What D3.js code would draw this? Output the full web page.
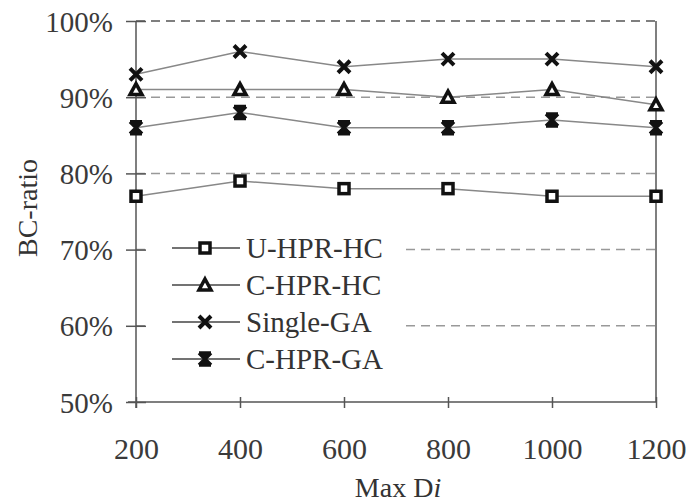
<!DOCTYPE html>
<html>
<head>
<meta charset="utf-8">
<script src="https://cdn.jsdelivr.net/npm/d3@7"></script>
<style>
  body { margin: 0; background: #fff; }
  text { font-family: "Liberation Serif", "Times New Roman", serif; fill: #333; }
</style>
</head>
<body>
<script>
// data
var categories = ["200", "400", "600", "800", "1000", "1200"];
var seriesNames = ["U-HPR-HC", "C-HPR-HC", "Single-GA", "C-HPR-GA"];
var uHprHc   = [0.77, 0.79, 0.78, 0.78, 0.77, 0.77];
var cHprHc   = [0.91, 0.91, 0.91, 0.90, 0.91, 0.89];
var singleGa = [0.93, 0.96, 0.94, 0.95, 0.95, 0.94];
var cHprGa   = [0.86, 0.88, 0.86, 0.86, 0.87, 0.86];
var yTicks   = [0.5, 0.6, 0.7, 0.8, 0.9, 1.0];

var W = 689, H = 503;
var plotLeft = 136, plotRight = 656, plotTop = 21, plotBottom = 402;

var svg = d3.select("body").append("svg")
    .attr("width", W)
    .attr("height", H);

var x = d3.scalePoint().domain(categories).range([plotLeft, plotRight]);
var y = d3.scaleLinear().domain([0.5, 1.0]).range([plotBottom, plotTop]);

// gridlines (dashed)
svg.append("g")
    .selectAll("line")
    .data(yTicks.filter(function(d) { return d > 0.5; }))
    .enter().append("line")
        .attr("x1", plotLeft)
        .attr("x2", plotRight)
        .attr("y1", function(d) { return y(d); })
        .attr("y2", function(d) { return y(d); })
        .style("stroke", function(d) { return d == 1.0 ? "#555" : "#999"; })
        .style("stroke-width", 1.5)
        .style("stroke-dasharray", "9,6");

// right border
svg.append("line")
    .attr("x1", plotRight).attr("x2", plotRight)
    .attr("y1", plotTop).attr("y2", plotBottom)
    .style("stroke", "#555").style("stroke-width", 1.5);

// y axis, ticks crossing the line
var yAxis = svg.append("g")
    .attr("transform", "translate(" + plotLeft + ",0)")
    .call(d3.axisLeft(y).tickValues(yTicks).tickSize(0).tickFormat(d3.format(".0%")));
yAxis.select(".domain").remove();
yAxis.append("line")
    .attr("x1", 0).attr("x2", 0)
    .attr("y1", plotTop).attr("y2", plotBottom + 6)
    .style("stroke", "#555").style("stroke-width", 1.5);
yAxis.selectAll(".tick").append("line")
    .attr("x1", -10).attr("x2", 10)
    .style("stroke", "#555").style("stroke-width", 1.5);
yAxis.selectAll(".tick text")
    .attr("x", -23)
    .attr("dy", "0.35em")
    .style("font-size", "29px")
    .style("font-family", "Liberation Serif")
    .style("fill", "#3a3a3a");

// x axis
var xAxis = svg.append("g")
    .attr("transform", "translate(0," + plotBottom + ")")
    .call(d3.axisBottom(x).tickSize(0));
xAxis.select(".domain").remove();
xAxis.append("line")
    .attr("x1", plotLeft - 8).attr("x2", plotRight)
    .style("stroke", "#555").style("stroke-width", 1.5);
xAxis.selectAll(".tick").append("line")
    .attr("y1", -5).attr("y2", 6)
    .style("stroke", "#555").style("stroke-width", 1.5);
xAxis.selectAll(".tick text")
    .attr("y", 57)
    .attr("dy", 0)
    .style("font-size", "30px")
    .style("font-family", "Liberation Serif")
    .style("fill", "#3a3a3a");

// axis titles
svg.append("text")
    .attr("transform", "translate(37,208) rotate(-90)")
    .style("text-anchor", "middle")
    .style("font-size", "28px")
    .text("BC-ratio");

var xt = svg.append("text")
    .attr("x", 398)
    .attr("y", 497)
    .style("text-anchor", "middle")
    .style("font-size", "28px");
xt.append("tspan").text("Max D");
xt.append("tspan").style("font-style", "italic").text("i");

// marker shapes
function drawMarker(g, type) {
    if (type == 0) {
        g.append("rect")
            .attr("x", -5).attr("y", -5).attr("width", 10).attr("height", 10)
            .style("fill", "#fff").style("stroke", "#111").style("stroke-width", 3.5);
    } else if (type == 1) {
        g.append("path")
            .attr("d", "M0,-6L6,5L-6,5Z")
            .style("fill", "#fff").style("stroke", "#111").style("stroke-width", 3.5);
    } else if (type == 2) {
        g.append("path")
            .attr("d", "M-6,-6L6,6M-6,6L6,-6")
            .style("stroke", "#111").style("stroke-width", 4);
    } else {
        g.append("path")
            .attr("d", "M-6,-6L6,6M-6,6L6,-6M0,-7L0,7M-6,-6L6,-6M-6,6L6,6")
            .style("stroke", "#111").style("stroke-width", 3.5);
    }
}

var allSeries = [uHprHc, cHprHc, singleGa, cHprGa];

var line = d3.line()
    .x(function(d, i) { return x(categories[i]); })
    .y(function(d) { return y(d); });

// legend (white box hides the gridlines behind it)
var lg = svg.append("g");
lg.append("rect")
    .attr("x", 150).attr("y", 228)
    .attr("width", 254).attr("height", 150)
    .style("fill", "#fff");

seriesNames.forEach(function(name, k) {
    var ly = 248 + k * 37;
    lg.append("line")
        .attr("x1", 172).attr("x2", 240)
        .attr("y1", ly).attr("y2", ly)
        .style("stroke", "#444").style("stroke-width", 1.5);
    drawMarker(lg.append("g").attr("transform", "translate(205," + ly + ")"), k);
    lg.append("text")
        .attr("x", 246)
        .attr("y", ly + 10)
        .style("font-size", "29px")
        .text(name);
});

// data lines and markers
allSeries.forEach(function(vals, k) {
    svg.append("path")
        .datum(vals)
        .attr("d", line)
        .style("fill", "none")
        .style("stroke", "#888")
        .style("stroke-width", 1.5);
    vals.forEach(function(v, i) {
        drawMarker(svg.append("g")
            .attr("transform", "translate(" + x(categories[i]) + "," + y(v) + ")"), k);
    });
});
</script>
</body>
</html>
